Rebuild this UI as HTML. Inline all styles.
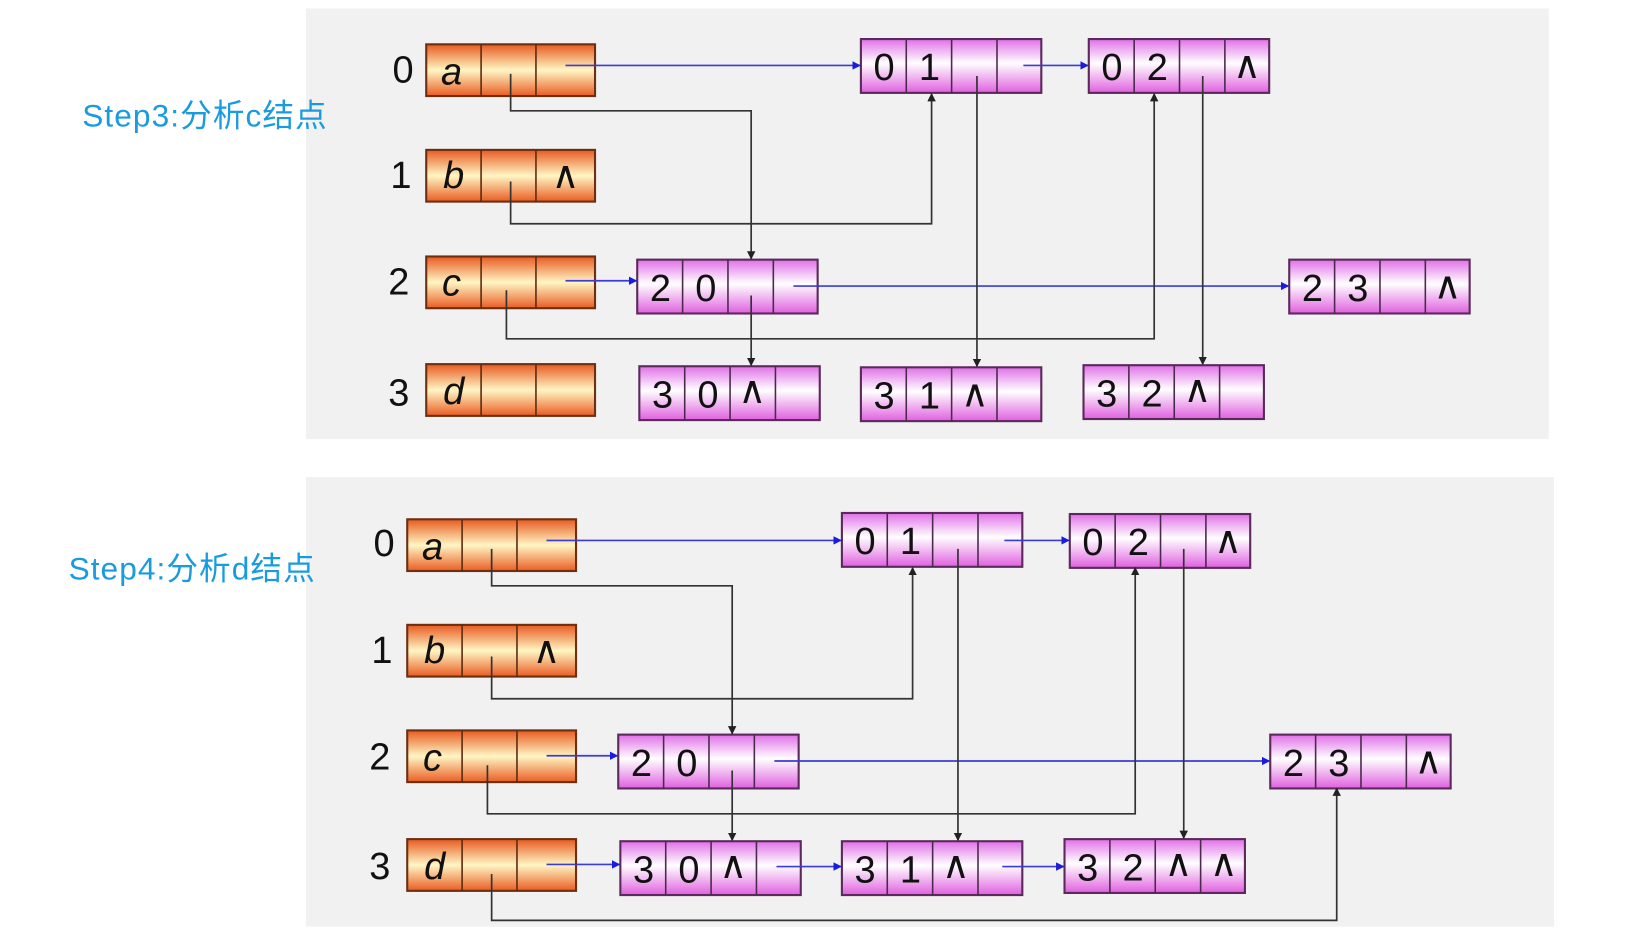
<!DOCTYPE html>
<html><head><meta charset="utf-8"><style>
html,body{margin:0;padding:0;background:#fff;}
svg{display:block;}
.n{font-family:"Liberation Sans",sans-serif;font-size:36px;fill:#111;text-anchor:middle;}
.l{font-family:"Liberation Sans",sans-serif;font-size:36px;font-style:italic;fill:#111;text-anchor:middle;}
.c{font-family:"DejaVu Sans",sans-serif;font-size:36px;fill:#111;text-anchor:middle;}
.s{font-family:"Liberation Sans","Noto Sans CJK SC",sans-serif;font-size:30px;fill:#1a9be0;letter-spacing:1px;}
.k{stroke:#333;stroke-width:1.6;fill:none;}
.b{stroke:#3b3bd8;stroke-width:1.6;fill:none;}
</style></head><body>
<svg width="1649" height="932" viewBox="0 0 1563 883" preserveAspectRatio="none" xmlns="http://www.w3.org/2000/svg">
<defs>
<linearGradient id="og" x1="0" y1="0" x2="0" y2="1">
<stop offset="0" stop-color="#e85a20"/><stop offset="0.5" stop-color="#fff6c4"/><stop offset="1" stop-color="#ea5c22"/></linearGradient>
<linearGradient id="pg" x1="0" y1="0" x2="0" y2="1">
<stop offset="0" stop-color="#e070e8"/><stop offset="0.45" stop-color="#ffffff"/><stop offset="1" stop-color="#e060e0"/></linearGradient>
<marker id="ak" markerWidth="8" markerHeight="8" refX="7" refY="4" orient="auto" markerUnits="userSpaceOnUse"><path d="M0,0 L8,4 L0,8z" fill="#222"/></marker>
<marker id="ab" markerWidth="8" markerHeight="8" refX="7" refY="4" orient="auto" markerUnits="userSpaceOnUse"><path d="M0,0 L8,4 L0,8z" fill="#1a1ae0"/></marker>
<g id="on"><rect x="0" y="0" width="160" height="49" fill="url(#og)" stroke="#6a3010" stroke-width="2"/><line x1="52" y1="0" x2="52" y2="49" stroke="#5a2a10" stroke-width="1.5"/><line x1="104" y1="0" x2="104" y2="49" stroke="#5a2a10" stroke-width="1.5"/></g>
<g id="pn"><rect x="0" y="0" width="171" height="51" fill="url(#pg)" stroke="#5a2a5a" stroke-width="2"/><line x1="43" y1="0" x2="43" y2="51" stroke="#4a2a4a" stroke-width="1.5"/><line x1="86" y1="0" x2="86" y2="51" stroke="#4a2a4a" stroke-width="1.5"/><line x1="129" y1="0" x2="129" y2="51" stroke="#4a2a4a" stroke-width="1.5"/></g>
</defs>
<rect x="290" y="8" width="1178" height="408" fill="#f1f1f1"/>
<rect x="290" y="452" width="1183" height="426" fill="#f1f1f1"/>
<text class="s" x="78" y="120">Step3:分析c结点</text>
<text class="s" x="65" y="549">Step4:分析d结点</text>

<!-- TOP -->
<g>
<text class="n" x="382" y="78">0</text><text class="n" x="380" y="178">1</text><text class="n" x="378" y="279">2</text><text class="n" x="378" y="384">3</text>
<use href="#on" x="404" y="42"/><use href="#on" x="404" y="142"/><use href="#on" x="404" y="243"/><use href="#on" x="404" y="345"/>
<text class="l" x="428" y="80">a</text><text class="l" x="430" y="178">b</text><text class="l" x="428" y="280">c</text><text class="l" x="430" y="383">d</text>
<text class="c" x="536" y="178">∧</text>
<use href="#pn" x="816" y="37"/><text class="n" x="838" y="76">0</text><text class="n" x="881" y="76">1</text>
<use href="#pn" x="1032" y="37"/><text class="n" x="1054" y="76">0</text><text class="n" x="1097" y="76">2</text><text class="c" x="1182" y="74">∧</text>
<use href="#pn" x="604" y="246"/><text class="n" x="626" y="285">2</text><text class="n" x="669" y="285">0</text>
<use href="#pn" x="1222" y="246"/><text class="n" x="1244" y="285">2</text><text class="n" x="1287" y="285">3</text><text class="c" x="1372" y="283">∧</text>
<use href="#pn" x="606" y="347"/><text class="n" x="628" y="386">3</text><text class="n" x="671" y="386">0</text><text class="c" x="713" y="382">∧</text>
<use href="#pn" x="816" y="348"/><text class="n" x="838" y="387">3</text><text class="n" x="881" y="387">1</text><text class="c" x="924" y="385">∧</text>
<use href="#pn" x="1027" y="346"/><text class="n" x="1049" y="385">3</text><text class="n" x="1092" y="385">2</text><text class="c" x="1135" y="381">∧</text>
<path class="b" d="M536,62 H815" marker-end="url(#ab)"/>
<path class="b" d="M970,62 H1031" marker-end="url(#ab)"/>
<path class="b" d="M536,266 H603" marker-end="url(#ab)"/>
<path class="b" d="M752,271 H1221" marker-end="url(#ab)"/>
<path class="k" d="M484,70 V105 H712 V245" marker-end="url(#ak)"/>
<path class="k" d="M484,172 V212 H883 V89" marker-end="url(#ak)"/>
<path class="k" d="M480,275 V321 H1094 V89" marker-end="url(#ak)"/>
<path class="k" d="M712,280 V346" marker-end="url(#ak)"/>
<path class="k" d="M926,72 V347" marker-end="url(#ak)"/>
<path class="k" d="M1140,72 V345" marker-end="url(#ak)"/>
</g>

<!-- BOTTOM -->
<g>
<text class="n" x="364" y="527">0</text><text class="n" x="362" y="628">1</text><text class="n" x="360" y="729">2</text><text class="n" x="360" y="833">3</text>
<use href="#on" x="386" y="492"/><use href="#on" x="386" y="592"/><use href="#on" x="386" y="692"/><use href="#on" x="386" y="795"/>
<text class="l" x="410" y="530">a</text><text class="l" x="412" y="628">b</text><text class="l" x="410" y="730">c</text><text class="l" x="412" y="833">d</text>
<text class="c" x="518" y="628">∧</text>
<use href="#pn" x="798" y="486"/><text class="n" x="820" y="525">0</text><text class="n" x="863" y="525">1</text>
<use href="#pn" x="1014" y="487"/><text class="n" x="1036" y="526">0</text><text class="n" x="1079" y="526">2</text><text class="c" x="1164" y="524">∧</text>
<use href="#pn" x="586" y="696"/><text class="n" x="608" y="735">2</text><text class="n" x="651" y="735">0</text>
<use href="#pn" x="1204" y="696"/><text class="n" x="1226" y="735">2</text><text class="n" x="1269" y="735">3</text><text class="c" x="1354" y="733">∧</text>
<use href="#pn" x="588" y="797"/><text class="n" x="610" y="836">3</text><text class="n" x="653" y="836">0</text><text class="c" x="695" y="832">∧</text>
<use href="#pn" x="798" y="797"/><text class="n" x="820" y="836">3</text><text class="n" x="863" y="836">1</text><text class="c" x="906" y="832">∧</text>
<use href="#pn" x="1009" y="795"/><text class="n" x="1031" y="834">3</text><text class="n" x="1074" y="834">2</text><text class="c" x="1117" y="830">∧</text><text class="c" x="1160" y="830">∧</text>
<path class="b" d="M518,512 H797" marker-end="url(#ab)"/>
<path class="b" d="M952,512 H1013" marker-end="url(#ab)"/>
<path class="b" d="M518,716 H585" marker-end="url(#ab)"/>
<path class="b" d="M734,721 H1203" marker-end="url(#ab)"/>
<path class="b" d="M518,819 H587" marker-end="url(#ab)"/>
<path class="b" d="M736,821 H797" marker-end="url(#ab)"/>
<path class="b" d="M950,821 H1008" marker-end="url(#ab)"/>
<path class="k" d="M466,520 V555 H694 V695" marker-end="url(#ak)"/>
<path class="k" d="M466,622 V662 H865 V538" marker-end="url(#ak)"/>
<path class="k" d="M462,725 V771 H1076 V538" marker-end="url(#ak)"/>
<path class="k" d="M694,730 V796" marker-end="url(#ak)"/>
<path class="k" d="M908,520 V796" marker-end="url(#ak)"/>
<path class="k" d="M1122,520 V794" marker-end="url(#ak)"/>
<path class="k" d="M466,828 V872 H1267 V747" marker-end="url(#ak)"/>
</g>
</svg>
</body></html>
